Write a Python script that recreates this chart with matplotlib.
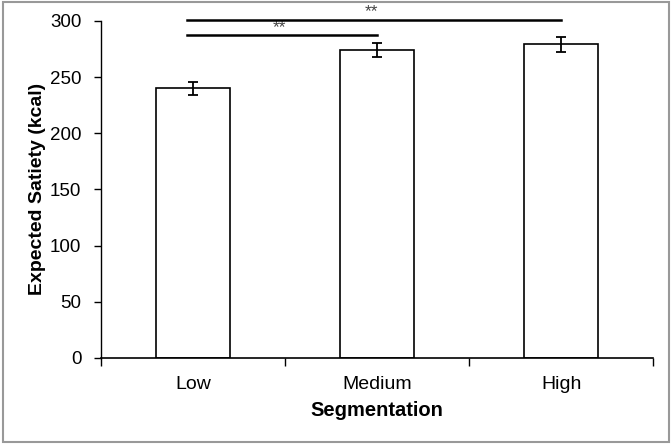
import matplotlib
matplotlib.use("Agg")
import matplotlib.pyplot as plt
from matplotlib.patches import Rectangle

plt.rcParams['font.family'] = ['Liberation Sans', 'DejaVu Sans']

# data
categories = ["Low", "Medium", "High"]
satiety = [240, 274, 279]
errors = [6, 6, 6.5]
# significance brackets: (from index, to index, height, label)
sig_pairs = [(0, 1, 287, "**"), (0, 2, 301, "**")]

fig = plt.figure(figsize=(6.72, 4.44), dpi=100)
ax = fig.add_axes([0.150, 0.194, 0.822, 0.759])

x = range(len(categories))
ax.bar(x, satiety, width=0.4, color="white", edgecolor="black", linewidth=1.2, zorder=2)
ax.errorbar(x, satiety, yerr=errors, fmt="none", ecolor="black", elinewidth=1.3,
            capsize=3.5, capthick=1.3, zorder=3)

# significance lines
for i, j, h, lab in sig_pairs:
    ax.plot([i - 0.03, j], [h, h], color="black", linewidth=1.8, clip_on=False, zorder=4)
    ax.text((i + j) / 2 - 0.03, h + 0.3, lab, ha="center", va="bottom", fontsize=12.5,
            color="#444444", clip_on=False)

ax.set_xlim(-0.5, 2.5)
ax.set_ylim(0, 300)
ax.set_yticks(range(0, 301, 50))
ax.set_xticks(x)
ax.set_xticklabels(categories, fontsize=14)
ax.tick_params(axis="x", length=0, pad=13)
ax.tick_params(axis="y", labelsize=13.5, direction="out", length=5, width=1, pad=9)

# x ticks at category boundaries
ax.set_xticks([-0.5, 0.5, 1.5, 2.5], minor=True)
ax.tick_params(axis="x", which="minor", direction="out", length=6, width=1)

for s in ["top", "right"]:
    ax.spines[s].set_visible(False)
ax.spines["left"].set_linewidth(1.0)
ax.spines["bottom"].set_linewidth(1.2)

ax.set_xlabel("Segmentation", fontsize=14.5, fontweight="bold", labelpad=6)
ax.set_ylabel("Expected Satiety (kcal)", fontsize=14, fontweight="bold", labelpad=3)

# gray frame around the figure
fig.patches.append(Rectangle((0.004, 0.005), 0.992, 0.99, transform=fig.transFigure,
                             fill=False, edgecolor="#999999", linewidth=1.5))

fig.savefig("out.png", dpi=100)
